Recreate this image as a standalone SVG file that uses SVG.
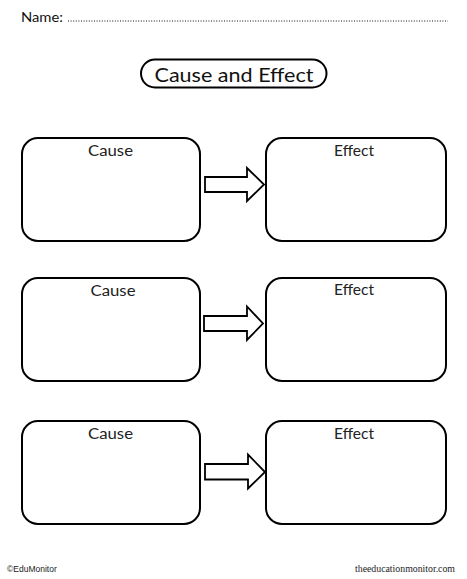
<svg xmlns="http://www.w3.org/2000/svg" width="467" height="579" viewBox="0 0 467 579">
<style>
.box{fill:#fff;stroke:#000;stroke-width:2}
.arr{fill:#fff;stroke:#000;stroke-width:1.8;stroke-linejoin:miter}
.lbl{font-family:Lato,"Open Sans",sans-serif;font-size:15.5px;fill:#222;text-anchor:middle}
</style>
<rect width="467" height="579" fill="#fff"/>
<g id="name">
<text x="21" y="21.5" font-family="Lato,'Open Sans',sans-serif" font-size="14" fill="#111" textLength="42" lengthAdjust="spacingAndGlyphs">Name:</text>
<line x1="68" y1="21" x2="448" y2="21" stroke="#111" stroke-width="1" stroke-dasharray="1,1.6"/>
</g>
<g id="title">
<rect x="141" y="59.5" width="185.5" height="28" rx="14" class="box"/>
<text x="234" y="82" font-family="Lato,'Open Sans',sans-serif" font-size="20" fill="#111" text-anchor="middle" textLength="159" lengthAdjust="spacingAndGlyphs">Cause and Effect</text>
</g>
<g id="cause1"><rect x="22" y="138" width="178" height="103" rx="16" class="box"/><text x="110.5" y="156" class="lbl" textLength="45" lengthAdjust="spacingAndGlyphs">Cause</text></g>
<g id="effect1"><rect x="266" y="138" width="180" height="103" rx="16" class="box"/><text x="354" y="156" class="lbl" textLength="40" lengthAdjust="spacingAndGlyphs">Effect</text></g>
<g id="cause2"><rect x="22" y="278" width="178" height="103" rx="16" class="box"/><text x="113" y="296" class="lbl" textLength="45" lengthAdjust="spacingAndGlyphs">Cause</text></g>
<g id="effect2"><rect x="266" y="278" width="180" height="103" rx="16" class="box"/><text x="354" y="295" class="lbl" textLength="40" lengthAdjust="spacingAndGlyphs">Effect</text></g>
<g id="cause3"><rect x="22" y="421" width="178" height="103" rx="16" class="box"/><text x="110.5" y="438.5" class="lbl" textLength="45" lengthAdjust="spacingAndGlyphs">Cause</text></g>
<g id="effect3"><rect x="266" y="421" width="180" height="103" rx="16" class="box"/><text x="354" y="438.5" class="lbl" textLength="40" lengthAdjust="spacingAndGlyphs">Effect</text></g>
<g id="connectors">
<path class="arr" d="M205,177 H247 V168 L264,184.5 L247,201 V192 H205 Z"/>
<path class="arr" d="M204,316 H247 V306.5 L263,323.5 L247,340 V331 H204 Z"/>
<path class="arr" d="M205,464 H248 V454.5 L265,472 L248,488.5 V479.5 H205 Z"/>
</g>
<g id="footer">
<text x="7" y="571.5" font-family="'Liberation Sans',Arial,sans-serif" font-size="8.5" fill="#222">©EduMonitor</text>
<text x="455" y="571.5" font-family="'Liberation Serif','Times New Roman',serif" font-size="10" fill="#222" text-anchor="end" textLength="100" lengthAdjust="spacingAndGlyphs">theeducationmonitor.com</text>
</g>
</svg>
